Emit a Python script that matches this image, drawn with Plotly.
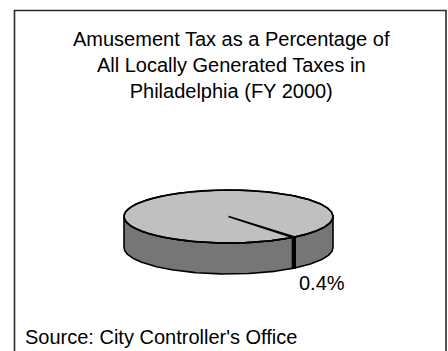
import numpy as np
import plotly.graph_objects as go

# Share of locally generated taxes, FY 2000 (percent)
labels = ["Amusement Tax", "All Other Local Taxes"]
values = [0.4, 99.6]
value_text = ["0.4%", ""]

title_lines = [
    "Amusement Tax as a Percentage of",
    "All Locally Generated Taxes in",
    "Philadelphia (FY 2000)",
]
source_text = "Source: City Controller's Office"

# Pseudo-3D pie geometry (in pixel-like axis units)
CX, CY = 228.5, 216.5      # centre of the top face
RX, RY = 104.5, 26.5       # radii of the top ellipse
DEPTH = 31                 # thickness of the pie
START_DEG = 50.6           # angle where the first slice begins
TOP_COLOR = "#c0c0c0"
SIDE_COLOR = "#767676"
EDGE = "black"

W, H = 448, 351

fig = go.Figure()


def pt(theta_deg, dy=0.0):
    t = np.radians(theta_deg)
    return CX + RX * np.cos(t), CY + RY * np.sin(t) + dy


total = float(sum(values))
bounds = [START_DEG]
for v in values:
    bounds.append(bounds[-1] + 360.0 * v / total)

# side walls (only the front half, 0..180 deg, is visible)
for k in range(len(values)):
    a0, a1 = bounds[k], bounds[k + 1]
    # the visible window may wrap around; test both 0..180 and 360..540
    for off in (0.0, 360.0, -360.0):
        lo, hi = max(a0, off), min(a1, off + 180.0)
        if hi <= lo:
            continue
        th = np.linspace(lo, hi, max(4, int((hi - lo) * 2)))
        xs_t, ys_t = pt(th)
        xs_b, ys_b = pt(th[::-1], DEPTH)
        xs = np.concatenate([xs_t, xs_b, xs_t[:1]])
        ys = np.concatenate([ys_t, ys_b, ys_t[:1]])
        fig.add_trace(go.Scatter(
            x=xs, y=ys, mode="lines", fill="toself", fillcolor=SIDE_COLOR,
            line=dict(color=EDGE, width=1.6), hoverinfo="skip", showlegend=False,
        ))

# cut faces of the slices seen on the wall
for b in bounds[:-1]:
    s = np.sin(np.radians(b))
    if s > 0:
        x0, y0 = pt(b)
        fig.add_trace(go.Scatter(
            x=[x0, x0], y=[y0, y0 + DEPTH], mode="lines",
            line=dict(color=EDGE, width=2.2), hoverinfo="skip", showlegend=False,
        ))

# top faces of the slices
for k in range(len(values)):
    a0, a1 = bounds[k], bounds[k + 1]
    th = np.linspace(a0, a1, max(3, int((a1 - a0) * 2)))
    xs, ys = pt(th)
    xs = np.concatenate([[CX], xs, [CX]])
    ys = np.concatenate([[CY], ys, [CY]])
    fig.add_trace(go.Scatter(
        x=xs, y=ys, mode="lines", fill="toself", fillcolor=TOP_COLOR,
        line=dict(color=EDGE, width=1.6), name=labels[k],
        hoverinfo="name", showlegend=False,
    ))

# outline of the whole top ellipse
th = np.linspace(0, 360, 721)
ex, ey = pt(th)
fig.add_trace(go.Scatter(
    x=ex, y=ey, mode="lines", line=dict(color=EDGE, width=1.6),
    hoverinfo="skip", showlegend=False,
))

annotations = [
    dict(x=231, y=65, text="<br>".join(title_lines), showarrow=False,
         xanchor="center", yanchor="middle", align="center",
         font=dict(family="Liberation Sans", size=20, color="black")),
    dict(x=23, y=337, text=source_text, showarrow=False,
         xanchor="left", yanchor="middle",
         font=dict(family="Liberation Sans", size=20, color="black")),
    dict(x=322, y=283, text=value_text[0], showarrow=False,
         xanchor="center", yanchor="middle",
         font=dict(family="Liberation Sans", size=20, color="black")),
]

fig.update_layout(
    width=W, height=H,
    margin=dict(l=0, r=0, t=0, b=0),
    paper_bgcolor="white", plot_bgcolor="white",
    xaxis=dict(range=[0, W], visible=False, fixedrange=True),
    yaxis=dict(range=[H, 0], visible=False, fixedrange=True),
    annotations=annotations,
    shapes=[dict(type="rect", x0=14.5, x1=446, y0=10.5, y1=H + 5,
                 line=dict(color="#2a2a2a", width=1.6), layer="above")],
)

fig.write_html("out.html")
